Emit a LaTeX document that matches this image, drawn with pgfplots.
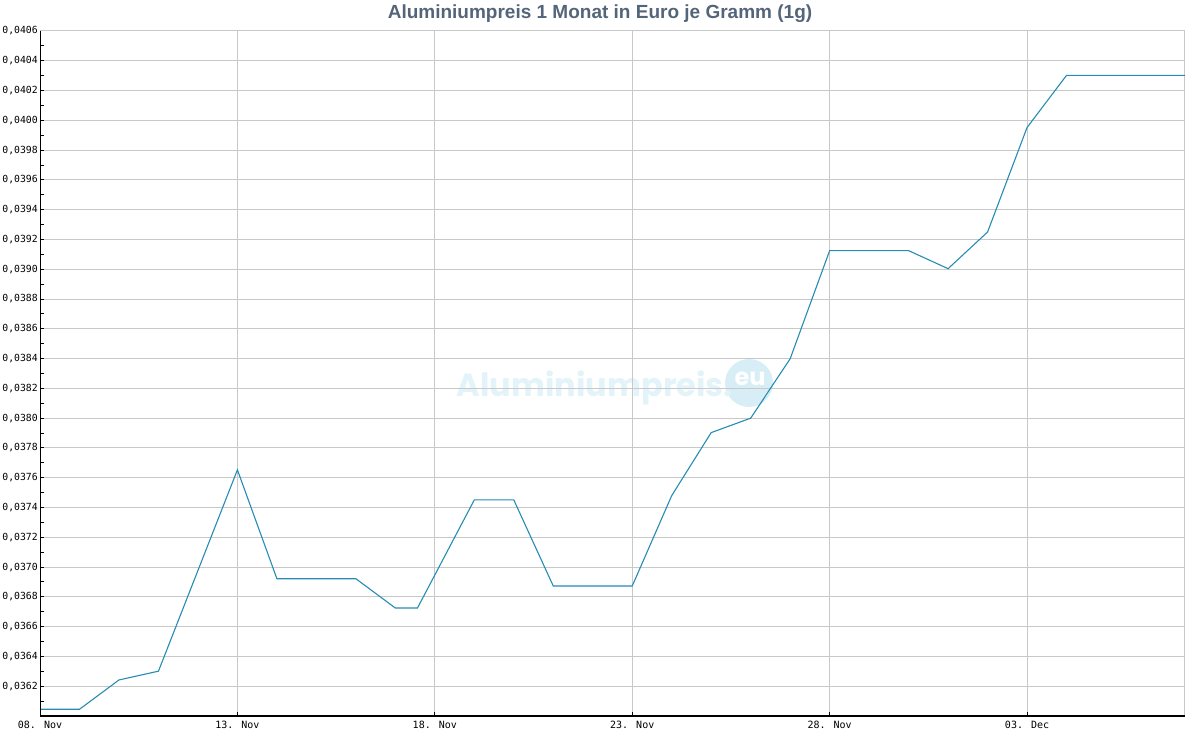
\documentclass[border=0pt]{standalone}
\usepackage{fontspec}
\setmainfont{Liberation Sans}
\newfontfamily\monofont{DejaVu Sans Mono}
\newfontfamily\wmfont{Poppins}
\usepackage{pgfplots}
\pgfplotsset{compat=1.18}
\definecolor{gridgray}{RGB}{200,200,200}
\definecolor{linecol}{RGB}{38,140,178}
\definecolor{titlecol}{RGB}{84,101,122}
\definecolor{wmtext}{RGB}{226,243,249}
\definecolor{wmcirc}{RGB}{216,238,247}
\pgfplotstableread{
d v
0 0.036045
1 0.036045
2 0.036242
3 0.036301
5 0.037653
6 0.036922
8 0.036922
9 0.036725
9.56 0.036725
11 0.037451
12 0.037451
13 0.036873
15 0.036873
16 0.037480
17 0.037903
18 0.038000
19 0.038399
20 0.039125
22 0.039125
23 0.039004
24 0.039250
25 0.039952
26 0.040302
29 0.040302
}\pricedata
\begin{document}
\begin{tikzpicture}
\useasboundingbox (0pt,0pt) rectangle (1200pt,750pt);
% watermark
\fill[wmcirc] (749pt,367pt) circle (24pt);
\node[anchor=east, text=wmtext, font=\wmfont\fontsize{32}{32}\selectfont\bfseries, inner sep=0pt] at (733pt,362pt) {Aluminiumpreis.};
\node[text=white, font=\wmfont\fontsize{24}{24}\selectfont\bfseries, inner sep=0pt] at (750pt,371pt) {eu};
% title
\node[font=\fontsize{19}{22}\selectfont\bfseries, text=titlecol] at (600pt,736pt) {Aluminiumpreis 1 Monat in Euro je Gramm (1g)};
\begin{axis}[
  at={(40pt,34pt)}, anchor=south west,
  scale only axis, width=1145pt, height=685pt,
  xmin=0, xmax=29, ymin=0.0360, ymax=0.0406,
  xtick={0,5,10,15,20,25},
  xticklabels={08. Nov,13. Nov,18. Nov,23. Nov,28. Nov,03. Dec},
  ytick={0.0362,0.0364,0.0366,0.0368,0.0370,0.0372,0.0374,0.0376,0.0378,0.0380,0.0382,0.0384,0.0386,0.0388,0.0390,0.0392,0.0394,0.0396,0.0398,0.0400,0.0402,0.0404,0.0406},
  minor ytick={0.0361,0.0363,0.0365,0.0367,0.0369,0.0371,0.0373,0.0375,0.0377,0.0379,0.0381,0.0383,0.0385,0.0387,0.0389,0.0391,0.0393,0.0395,0.0397,0.0399,0.0401,0.0403,0.0405},
  grid=major,
  major grid style={draw=gridgray, line width=1pt},
  minor grid style={draw=none},
  axis line style={draw=gridgray, line width=1pt},
  tick align=inside, tick pos=left,
  major tick length=4pt, minor tick length=4pt,
  tick style={black, line width=1pt},
  scaled y ticks=false,
  yticklabel style={font=\monofont\fontsize{9.8}{12}\selectfont, inner sep=2pt, /pgf/number format/.cd, fixed, fixed zerofill, precision=4, use comma, assume math mode=true},
  xticklabel style={font=\monofont\fontsize{10}{12}\selectfont, yshift=-1.5pt},
]
\addplot[linecol, line width=1.1pt, no marks] table[x=d, y=v] {\pricedata};
\draw[black, line width=1.6pt] (rel axis cs:0,1) -- (rel axis cs:0,0) -- (rel axis cs:1,0);
\end{axis}
\end{tikzpicture}
\end{document}
